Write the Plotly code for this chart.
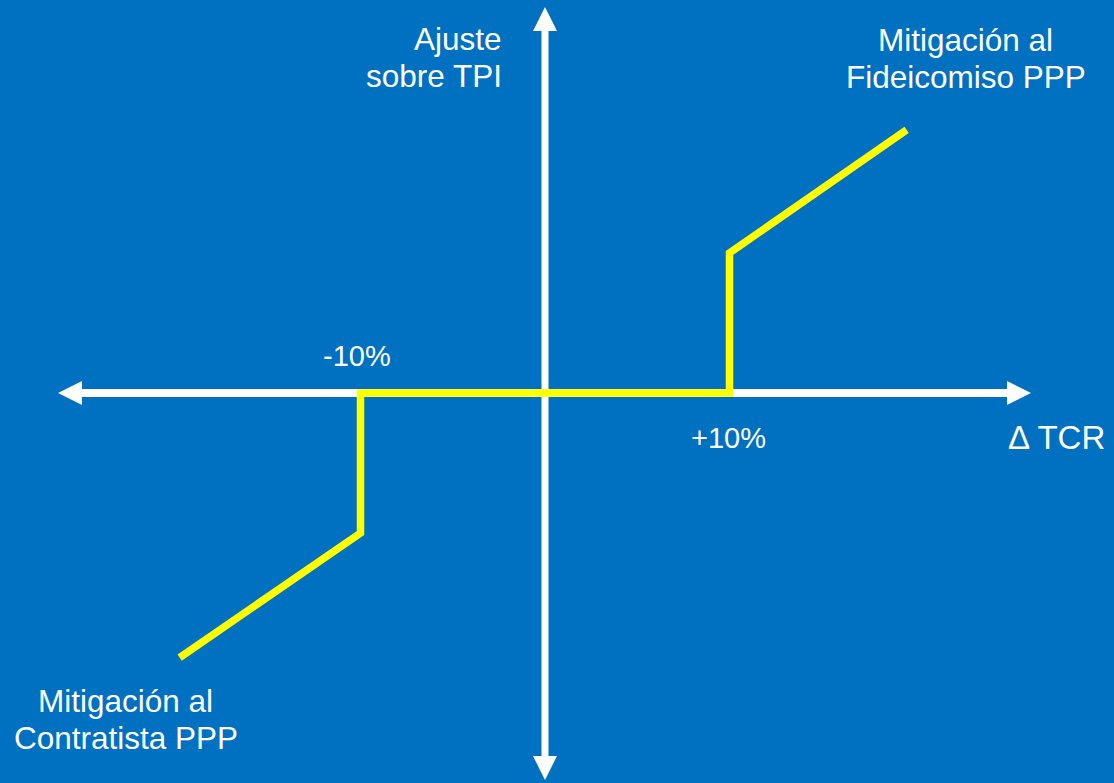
import plotly.graph_objects as go

W, H = 1114, 783
BG = "#0070C0"
YELLOW = "#FFFF00"
FONT = "Liberation Sans, Arial, sans-serif"

# Data: payoff (adjustment on TPI) vs change in real exchange rate (TCR)
delta_tcr = [-19.8, -10, -10, 10, 10, 19.6]
ajuste_tpi = [-18.9, -10, 0, 0, 10, 18.8]

threshold_labels = ["-10%", "+10%"]
axis_x_title = "\u0394 TCR"
axis_y_title = ["Ajuste", "sobre TPI"]
label_up = ["Mitigación al", "Fideicomiso PPP"]
label_down = ["Mitigación al", "Contratista PPP"]

# layout scales (pixel anchors of the origin)
X0_PX, Y0_PX = 545, 393
SX, SY = 18.45, 14.0
x_range = [-X0_PX / SX, (W - X0_PX) / SX]
y_range = [-(H - Y0_PX) / SY, Y0_PX / SY]


def px(x):
    return x / W


def py(y):
    return 1 - y / H


fig = go.Figure()
fig.add_trace(go.Scatter(x=delta_tcr, y=ajuste_tpi, mode="lines",
                         line=dict(color=YELLOW, width=7.5), hoverinfo="skip"))

shapes = []
# horizontal shaft
shapes.append(dict(type="line", xref="paper", yref="paper", x0=px(75), x1=px(1012),
                   y0=py(Y0_PX), y1=py(Y0_PX), line=dict(color="white", width=8), layer="below"))
# vertical shaft
shapes.append(dict(type="line", xref="paper", yref="paper", x0=px(X0_PX), x1=px(X0_PX),
                   y0=py(25), y1=py(762), line=dict(color="white", width=7), layer="below"))


def tri(pts):
    return "M " + " L ".join(f"{px(a)},{py(b)}" for a, b in pts) + " Z"


heads = [
    [(58, Y0_PX), (82, Y0_PX - 12), (82, Y0_PX + 12)],
    [(1031, Y0_PX), (1007, Y0_PX - 12), (1007, Y0_PX + 12)],
    [(X0_PX, 7), (X0_PX - 12, 31), (X0_PX + 12, 31)],
    [(X0_PX, 780), (X0_PX - 12, 756), (X0_PX + 12, 756)],
]
for h in heads:
    shapes.append(dict(type="path", xref="paper", yref="paper", path=tri(h),
                       fillcolor="white", line=dict(color="white", width=0), layer="below"))

annotations = []


def txt(t, xc, yc, xanchor="center", size=31.5):
    annotations.append(dict(text=t, x=px(xc), y=py(yc), xref="paper", yref="paper",
                            xanchor=xanchor, yanchor="middle", showarrow=False,
                            font=dict(family=FONT, size=size, color="white")))


# y-axis title (right aligned ending at x ~503)
txt(axis_y_title[0], 504, 39, xanchor="right")
txt(axis_y_title[1], 504, 76, xanchor="right")
# upper right label
txt(label_up[0], 965, 40)
txt(label_up[1], 966, 77)
# lower left label
txt(label_down[0], 125, 701)
txt(label_down[1], 126, 738)
# thresholds
txt(threshold_labels[0], 357, 356, size=29)
txt(threshold_labels[1], 728, 438, size=29)
# x-axis title
txt(axis_x_title, 1056, 438, size=33)

fig.update_layout(
    width=W, height=H,
    margin=dict(l=0, r=0, t=0, b=0),
    paper_bgcolor=BG, plot_bgcolor=BG,
    showlegend=False,
    xaxis=dict(range=x_range, visible=False, fixedrange=True),
    yaxis=dict(range=y_range, visible=False, fixedrange=True),
    shapes=shapes, annotations=annotations,
)

fig.write_html("out.html", config={"displayModeBar": False})
